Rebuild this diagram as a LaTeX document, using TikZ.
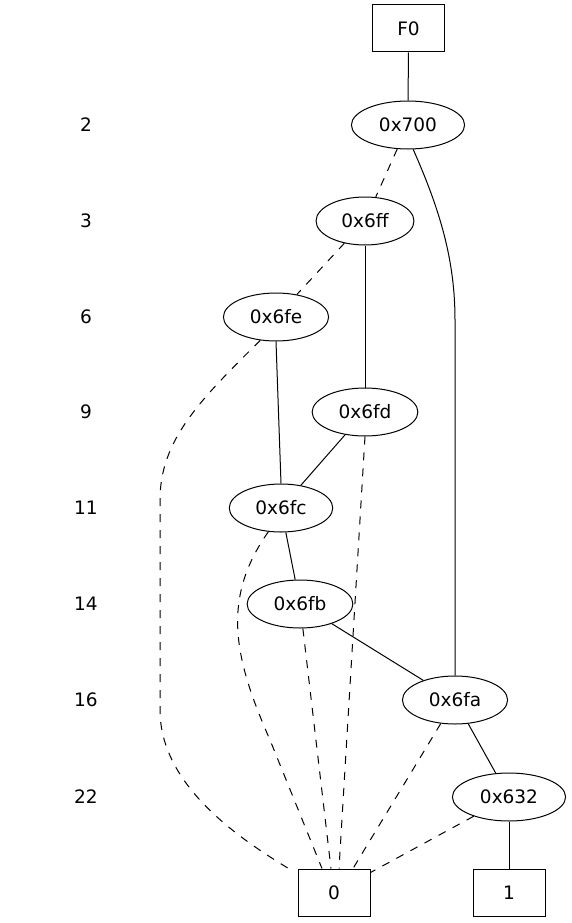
\documentclass[tikz,border=0pt]{standalone}
\usepackage{fontspec}
\setmainfont{DejaVu Sans}
\usetikzlibrary{calc,shapes.geometric}
\tikzset{
	bddnode/.style={ellipse, draw, line width=1pt, inner xsep=11pt, inner ysep=0pt, minimum height=48pt},
	termbox/.style={rectangle, draw, line width=1pt, minimum width=72pt, minimum height=47pt},
	lvl/.style={inner sep=0pt},
	hi/.style={line width=1pt},
	lo/.style={line width=1pt, dash pattern=on 8pt off 8pt}
}

\begin{document}
\begin{tikzpicture}[x=1pt, y=-1pt, font=\fontsize{18.5}{22}\selectfont]
			%%%%% START %%%%%
			\useasboundingbox (0, 0) rectangle (571, 923);
			
			\node[lvl] (l2) at (86, 125) {2};
			\node[lvl] (l3) at (86, 221) {3};
			\node[lvl] (l6) at (86, 317) {6};
			\node[lvl] (l9) at (86, 412) {9};
			\node[lvl] (l11) at (86, 508) {11};
			\node[lvl] (l14) at (86, 604) {14};
			\node[lvl] (l16) at (86, 700) {16};
			\node[lvl] (l22) at (86, 797) {22};
			
			\node[termbox] (f0) at (408.5, 28.5) {F0};
			\node[bddnode] (n700) at (408, 125) {0x700};
			\node[bddnode] (n6ff) at (365, 221) {0x6ff};
			\node[bddnode] (n6fe) at (276, 317) {0x6fe};
			\node[bddnode] (n6fd) at (365, 412) {0x6fd};
			\node[bddnode] (n6fc) at (281, 508) {0x6fc};
			\node[bddnode] (n6fb) at (300, 604) {0x6fb};
			\node[bddnode] (n6fa) at (455, 700) {0x6fa};
			\node[bddnode] (n632) at (509, 797) {0x632};
			\node[termbox] (zero) at (334, 892.5) {0};
			\node[termbox] (one) at (509, 892.5) {1};
			
			\draw[hi] (f0) -- (n700);
			\draw[lo] (n700) -- (n6ff);
			\draw[hi] (n700.282) .. controls (440, 210) and (455, 260) .. (455, 320) -- (n6fa.north);
			
			\draw[lo] (n6ff) -- (n6fe);
			\draw[hi] (n6ff) -- (n6fd);
			
			\draw[hi] (n6fe.south) -- (n6fc.north);
			\draw[lo] (n6fe.236) .. controls (200, 400) and (160, 440) .. (160, 500) -- (160, 710) .. controls (160, 790) and (250, 845) .. ($(zero.north west)+(-4, 3)$);
			
			\draw[hi] (n6fd) -- (n6fc);
			\draw[lo] (n6fd.south) -- ($(zero.north)+(5, 0)$);
			
			\draw[hi] (n6fc) -- (n6fb);
			\draw[lo] (n6fc.242) .. controls (220, 600) and (235, 660) .. (270, 740) -- ($(zero.north)+(-12, 0)$);
			
			\draw[hi] (n6fb) -- (n6fa);
			\draw[lo] (n6fb) -- ($(zero.north)+(-3, 0)$);
			
			\draw[lo] (n6fa) -- ($(zero.north)+(19, 0)$);
			\draw[hi] (n6fa) -- (n632);
			
			\draw[lo] (n632) -- ($(zero.north east)+(0, 4)$);
			\draw[hi] (n632) -- (one);
			
			%%%%% END %%%%%
		\end{tikzpicture}
\end{document}
